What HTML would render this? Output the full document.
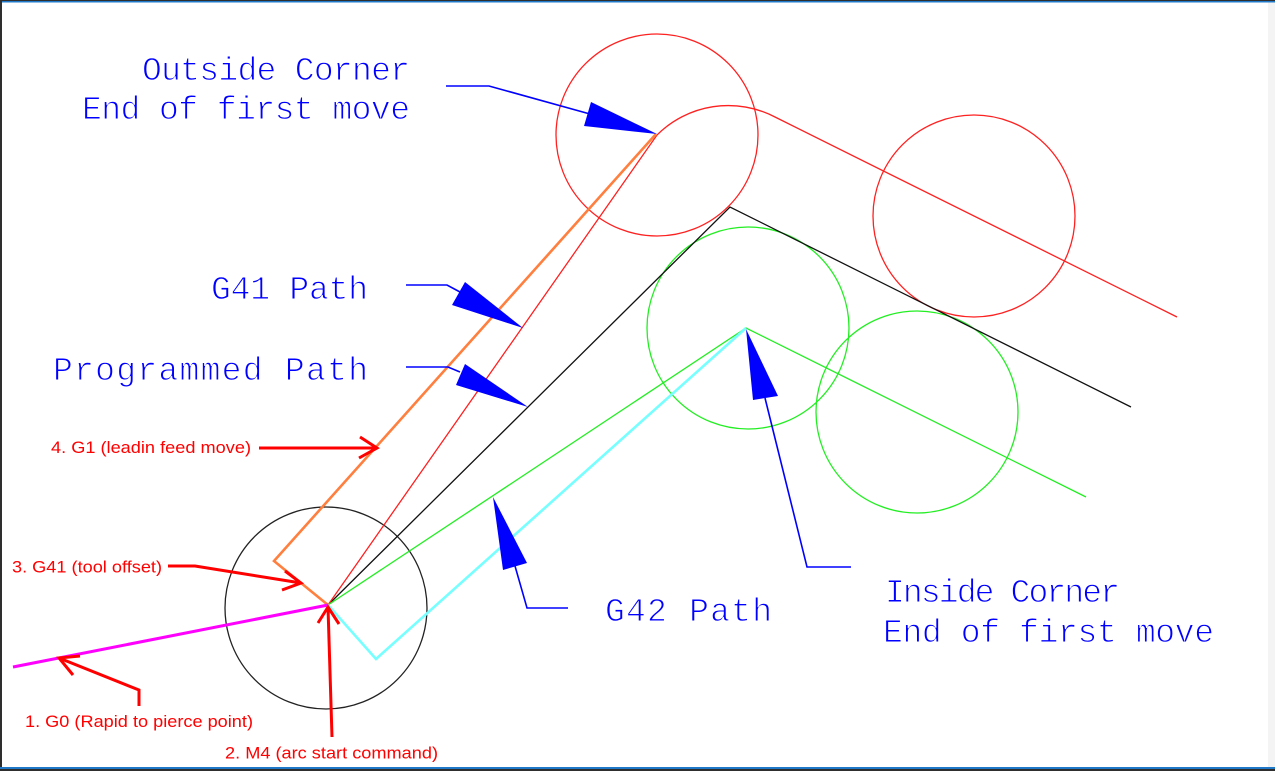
<!DOCTYPE html>
<html>
<head>
<meta charset="utf-8">
<style>
  html,body{margin:0;padding:0;background:#fff;}
  body{width:1275px;height:771px;overflow:hidden;}
  svg{display:block;}
  .blue{font-family:"Liberation Mono","DejaVu Sans Mono",monospace;font-size:33px;fill:#0000ff;stroke:#ffffff;stroke-width:1;}
  .red{font-family:"Liberation Sans",Arial,sans-serif;font-size:17px;fill:#ff0000;}
</style>
</head>
<body>
<svg width="1275" height="771" viewBox="0 0 1275 771" xmlns="http://www.w3.org/2000/svg">
  <rect x="0" y="0" width="1275" height="771" fill="#ffffff"/>
  <!-- right shadow -->
  <rect x="1268" y="2" width="7" height="765" fill="#f4f4f4"/>
  <!-- frame -->
  <rect x="0" y="0" width="1275" height="1" fill="#2e2e2e"/>
  <rect x="0" y="1" width="1275" height="1.5" fill="#1f78c8"/>
  <rect x="0" y="0" width="2" height="771" fill="#2e2e2e"/>
  <rect x="0" y="767" width="1275" height="2" fill="#1f78c8"/>
  <rect x="0" y="769" width="1275" height="2" fill="#2e2e2e"/>

  <!-- circles -->
  <g fill="none" stroke-width="1.3">
    <circle cx="326" cy="608" r="101" stroke="#222"/>
    <circle cx="657" cy="135" r="101" stroke="#ff2020"/>
    <circle cx="974" cy="216" r="101" stroke="#ff2020"/>
    <circle cx="748" cy="328" r="101" stroke="#22ee22"/>
    <circle cx="917" cy="412" r="101" stroke="#22ee22"/>
  </g>

  <!-- paths -->
  <g fill="none" stroke-linejoin="miter">
    <polyline points="328,605 730,207 1131,407" stroke="#111" stroke-width="1.3"/>
    <path d="M328,605 L657,135 A101,101 0 0 1 775,117 L1177,317" stroke="#ff2020" stroke-width="1.3"/>
    <polyline points="328,605 746,328 1086,497" stroke="#22ee22" stroke-width="1.3"/>
    <polyline points="328,605 376,659 746,328" stroke="#77ffff" stroke-width="2.6"/>
    <polyline points="328,605 274,561 656,134" stroke="#ff7f3f" stroke-width="2.6"/>
    <line x1="13" y1="667" x2="328" y2="605" stroke="#ff00ff" stroke-width="3"/>
  </g>

  <!-- blue leaders & arrowheads -->
  <g fill="none" stroke="#0000ff" stroke-width="1.6">
    <polyline points="446,86 489,86 590,114"/>
    <polyline points="406,285 447,285 460,292"/>
    <polyline points="406,367 448,367 460,372"/>
    <polyline points="851,567 807,567 765,398"/>
    <polyline points="568,608 527,608 515,566"/>
  </g>
  <g fill="#0000ff">
    <polygon points="591,102 584,126 657,134"/>
    <polygon points="465,282 452,305 523,328"/>
    <polygon points="465,364 456,385 528,407"/>
    <polygon points="746,329 753,400 778,396"/>
    <polygon points="493,497 503,570 527,563"/>
  </g>

  <!-- red leaders -->
  <g fill="none" stroke="#ff0000" stroke-width="3" stroke-linejoin="miter" stroke-linecap="butt">
    <line x1="259" y1="448" x2="377" y2="448"/>
    <polyline points="360,437 377,448 359,458"/>
    <polyline points="168,566 195,566 301,583"/>
    <polyline points="285,571 301,583 282,590"/>
    <polyline points="139,706 139,690 59,658"/>
    <polyline points="80,656 59,658 73,675"/>
    <line x1="332" y1="737" x2="328" y2="607"/>
    <polyline points="318,623 328,607 339,624"/>
  </g>

  <!-- blue labels -->
  <text class="blue" x="142" y="80" textLength="268" lengthAdjust="spacing">Outside Corner</text>
  <text class="blue" x="82" y="119" textLength="328" lengthAdjust="spacing">End of first move</text>
  <text class="blue" x="211" y="299" textLength="157" lengthAdjust="spacing">G41 Path</text>
  <text class="blue" x="53" y="380" textLength="315" lengthAdjust="spacing">Programmed Path</text>
  <text class="blue" x="885" y="602" textLength="235" lengthAdjust="spacing">Inside Corner</text>
  <text class="blue" x="883" y="642" textLength="331" lengthAdjust="spacing">End of first move</text>
  <text class="blue" x="605" y="621" textLength="167" lengthAdjust="spacing">G42 Path</text>

  <!-- red labels -->
  <text class="red" x="51" y="453" textLength="200" lengthAdjust="spacingAndGlyphs">4. G1 (leadin feed move)</text>
  <text class="red" x="12" y="572.5" textLength="150" lengthAdjust="spacingAndGlyphs">3. G41 (tool offset)</text>
  <text class="red" x="25" y="727" textLength="228" lengthAdjust="spacingAndGlyphs">1. G0 (Rapid to pierce point)</text>
  <text class="red" x="225" y="758.5" textLength="213" lengthAdjust="spacingAndGlyphs">2. M4 (arc start command)</text>
</svg>
</body>
</html>
